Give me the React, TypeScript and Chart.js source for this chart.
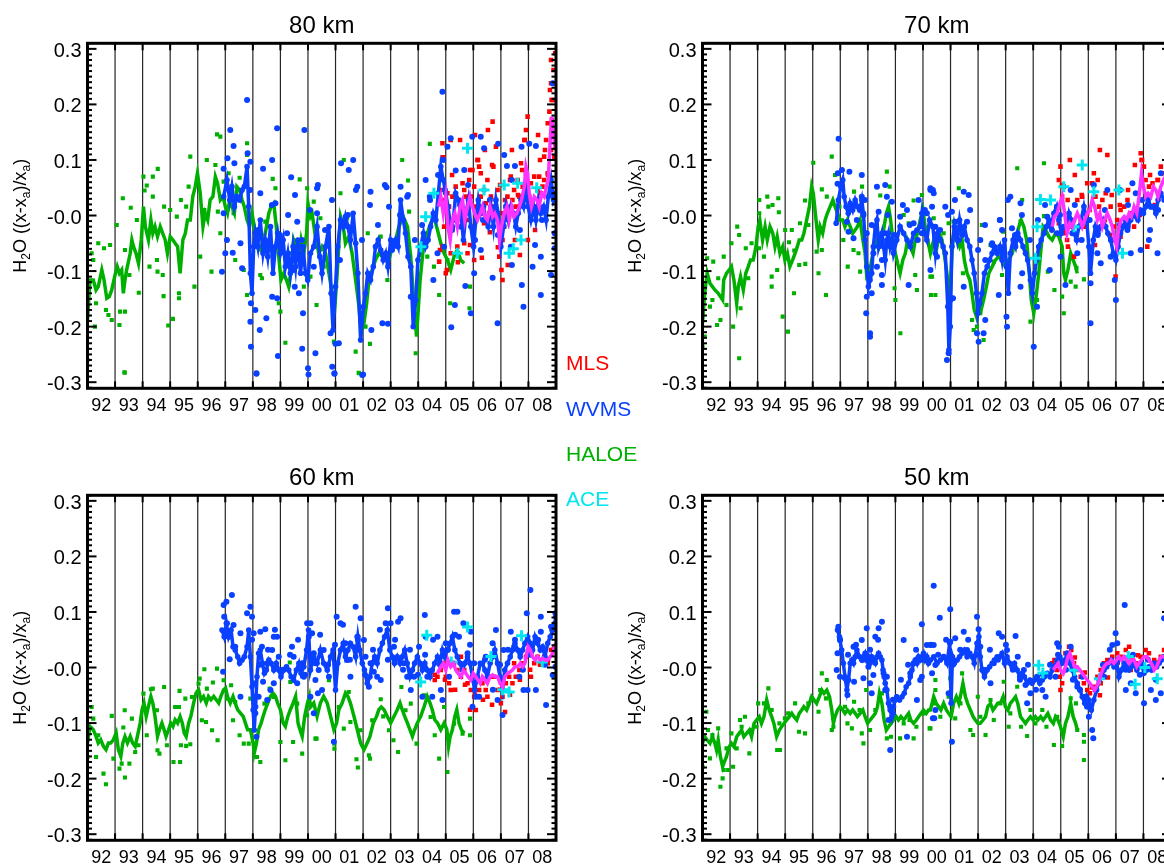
import React, { useEffect, useRef } from 'react';
import { Chart, registerables } from 'chart.js';

Chart.register(...registerables);

type Pt = [number, number];

const FONT = '"Liberation Sans", Arial, Helvetica, sans-serif';
const GREEN = '#00b000';
const BLUE = '#0a40ff';
const RED = '#ff0000';
const CYAN = '#00e6ee';
const MAGENTA = '#ff33ff';

const X_MIN = 1992;
const X_MAX = 2009;
const Y_MIN = -0.311;
const Y_MAX = 0.31;

const yearLines = [1993, 1994, 1995, 1996, 1997, 1998, 1999, 2000, 2001, 2002, 2003, 2004, 2005, 2006, 2007, 2008];
const yearLabelPos = [1992.5, 1993.5, 1994.5, 1995.5, 1996.5, 1997.5, 1998.5, 1999.5, 2000.5, 2001.5, 2002.5, 2003.5, 2004.5, 2005.5, 2006.5, 2007.5, 2008.5];
const yearLabels = ['92', '93', '94', '95', '96', '97', '98', '99', '00', '01', '02', '03', '04', '05', '06', '07', '08'];
const yTickValues = [0.3, 0.2, 0.1, 0, -0.1, -0.2, -0.3];
const yTickLabels = ['0.3', '0.2', '0.1', '-0.0', '-0.1', '-0.2', '-0.3'];
const yTitleParts: [string, boolean][] = [['H', false], ['2', true], ['O ((x-x', false], ['a', true], [')/x', false], ['a', true], [')', false]];

const legendItems = [
  { name: 'MLS', color: RED },
  { name: 'WVMS', color: BLUE },
  { name: 'HALOE', color: GREEN },
  { name: 'ACE', color: CYAN },
];

// ---------------- 80 km ----------------
const haloeLine80: Pt[] = [[1992.0,-0.188],[1992.09,-0.116],[1992.21,-0.116],[1992.31,-0.134],[1992.39,-0.128],[1992.52,-0.098],[1992.6,-0.116],[1992.7,-0.149],[1992.79,-0.146],[1992.88,-0.134],[1993.0,-0.107],[1993.08,-0.092],[1993.16,-0.104],[1993.24,-0.098],[1993.3,-0.14],[1993.36,-0.116],[1993.42,-0.098],[1993.55,-0.068],[1993.61,-0.044],[1993.67,-0.056],[1993.76,-0.068],[1993.85,-0.086],[1993.95,-0.044],[1994.03,0.016],[1994.1,-0.02],[1994.21,-0.044],[1994.3,-0.008],[1994.37,-0.032],[1994.45,-0.02],[1994.54,-0.038],[1994.64,-0.02],[1994.73,-0.032],[1994.82,-0.044],[1994.9,-0.068],[1995.0,-0.038],[1995.1,-0.044],[1995.18,-0.05],[1995.27,-0.056],[1995.36,-0.104],[1995.46,-0.044],[1995.55,-0.032],[1995.63,-0.008],[1995.73,-0.008],[1995.82,0.034],[1995.91,0.052],[1995.99,0.076],[1996.09,0.04],[1996.19,-0.02],[1996.27,0.004],[1996.36,-0.008],[1996.45,0.028],[1996.55,0.034],[1996.64,0.07],[1996.72,0.058],[1996.82,0.028],[1996.92,0.034],[1997.0,0.016],[1997.08,0.004],[1997.16,0.028],[1997.24,0.016],[1997.33,0.004],[1997.42,0.052],[1997.52,0.046],[1997.61,0.028],[1997.69,0.016],[1997.79,-0.008],[1997.88,-0.02],[1997.97,0.004],[1998.05,-0.02],[1998.15,-0.056],[1998.27,-0.062],[1998.37,-0.044],[1998.45,-0.032],[1998.58,0.004],[1998.66,0.016],[1998.76,0.022],[1998.85,-0.02],[1998.94,-0.074],[1999.02,-0.116],[1999.12,-0.104],[1999.22,-0.116],[1999.3,-0.128],[1999.39,-0.098],[1999.48,-0.044],[1999.58,-0.056],[1999.67,-0.074],[1999.75,-0.044],[1999.85,-0.068],[1999.95,-0.032],[2000.0,0.022],[2000.09,-0.002],[2000.15,0.004],[2000.27,-0.038],[2000.39,-0.068],[2000.51,-0.056],[2000.64,-0.068],[2000.76,-0.104],[2000.88,-0.14],[2000.96,-0.176],[2001.06,-0.104],[2001.18,-0.002],[2001.28,-0.02],[2001.36,-0.05],[2001.48,-0.038],[2001.6,-0.068],[2001.73,-0.116],[2001.85,-0.164],[2001.93,-0.212],[2002.03,-0.194],[2002.13,-0.158],[2002.21,-0.116],[2002.33,-0.098],[2002.45,-0.08],[2002.57,-0.068],[2002.7,-0.074],[2002.82,-0.068],[2002.94,-0.08],[2003.06,-0.056],[2003.18,-0.044],[2003.3,-0.02],[2003.46,-0.002],[2003.61,-0.02],[2003.73,-0.074],[2003.85,-0.164],[2003.94,-0.218],[2004.07,-0.116],[2004.19,-0.056],[2004.33,-0.032],[2004.45,-0.014],[2004.57,-0.002],[2004.7,-0.026],[2004.82,-0.05],[2004.94,-0.068],[2005.06,-0.08],[2005.18,-0.098],[2005.3,-0.074],[2005.42,-0.062],[2005.54,-0.08],[2005.67,-0.086]];

const haloePts80: Pt[] = [[1992.0,-0.26],[1992.15,-0.068],[1992.21,-0.08],[1992.39,-0.05],[1992.31,-0.158],[1992.27,-0.2],[1992.6,-0.059],[1992.82,-0.053],[1992.67,-0.17],[1992.76,-0.179],[1992.88,-0.188],[1993.06,-0.017],[1993.16,-0.197],[1993.18,-0.173],[1993.28,0.031],[1993.36,-0.062],[1993.36,-0.173],[1993.34,-0.282],[1993.52,-0.107],[1993.57,0.014],[1993.79,-0.008],[1993.86,-0.139],[1994.03,0.07],[1994.07,0.045],[1994.15,0.054],[1994.25,-0.092],[1994.37,0.07],[1994.37,0.034],[1994.55,0.084],[1994.52,-0.08],[1994.54,-0.101],[1994.73,-0.107],[1994.76,-0.145],[1994.78,0.016],[1994.93,-0.198],[1995.0,0.01],[1995.1,-0.186],[1995.24,-0.002],[1995.32,-0.14],[1995.32,-0.149],[1995.39,0.028],[1995.58,0.016],[1995.67,0.052],[1995.73,0.106],[1995.88,-0.128],[1996.09,-0.074],[1996.24,0.01],[1996.33,0.1],[1996.5,-0.101],[1996.64,0.091],[1996.7,0.146],[1996.82,0.142],[1996.73,0.007],[1996.82,-0.032],[1996.94,0.061],[1997.12,0.076],[1997.3,0.004],[1997.36,-0.08],[1997.52,0.068],[1997.67,-0.098],[1997.79,0.13],[1997.79,0.109],[1997.79,-0.143],[1998.27,-0.107],[1998.33,-0.113],[1998.45,-0.011],[1998.72,0.066],[1998.82,0.049],[1998.94,-0.158],[1999.0,-0.173],[1999.18,-0.229],[1999.36,-0.068],[1999.7,0.065],[1999.85,-0.128],[1999.97,0.049],[2000.09,-0.11],[2000.21,0.025],[2001.3,0.1],[2001.18,0.04],[2001.42,-0.005],[2000.45,-0.005],[2000.57,-0.092],[2000.31,-0.161],[2000.94,-0.227],[2001.73,-0.245],[2001.85,-0.284],[2002.25,-0.231],[2002.09,-0.2],[2002.17,-0.032],[2002.64,-0.038],[2002.88,-0.116],[2003.12,-0.05],[2003.42,0.1],[2003.63,0.063],[2003.67,0.007],[2003.91,-0.248],[2004.09,-0.071],[2004.42,0.129],[2004.33,-0.074],[2004.57,-0.092],[2004.76,-0.143],[2005.06,-0.08],[2005.16,-0.158],[2005.42,-0.068],[2005.86,-0.167],[2005.88,-0.128],[1993.35,-0.283],[2001.84,-0.283]];

const wvmsLine80: Pt[] = [[1996.94,0.034],[1997.06,0.064],[1997.16,0.028],[1997.24,0.052],[1997.33,0.016],[1997.42,0.034],[1997.52,0.028],[1997.61,0.046],[1997.69,0.052],[1997.79,0.088],[1997.85,0.016],[1997.91,-0.104],[1997.97,-0.14],[1998.03,-0.056],[1998.09,-0.032],[1998.18,-0.056],[1998.27,-0.008],[1998.37,-0.068],[1998.45,-0.044],[1998.54,-0.074],[1998.64,-0.02],[1998.73,-0.104],[1998.82,-0.056],[1998.9,-0.032],[1999.0,-0.068],[1999.1,-0.044],[1999.18,-0.092],[1999.27,-0.068],[1999.36,-0.104],[1999.46,-0.056],[1999.55,-0.092],[1999.63,-0.044],[1999.73,-0.104],[1999.82,-0.056],[1999.91,-0.104],[1999.99,-0.116],[2000.09,-0.068],[2000.21,-0.056],[2000.33,-0.02],[2000.43,-0.074],[2000.51,-0.104],[2000.64,-0.056],[2000.76,-0.02],[2000.84,-0.14],[2000.91,-0.206],[2001.0,-0.128],[2001.08,-0.056],[2001.18,-0.008],[2001.28,-0.02],[2001.36,-0.002],[2001.45,-0.02],[2001.54,-0.044],[2001.64,0.004],[2001.73,-0.05],[2001.81,-0.104],[2001.91,-0.224],[2002.01,-0.164],[2002.09,-0.14],[2002.17,-0.104],[2002.27,-0.116],[2002.37,-0.092],[2002.45,-0.056],[2002.55,-0.044],[2002.64,-0.062],[2002.73,-0.08],[2002.82,-0.068],[2002.9,-0.092],[2003.0,-0.044],[2003.1,-0.056],[2003.18,-0.044],[2003.27,-0.056],[2003.36,0.028],[2003.46,-0.008],[2003.54,-0.032],[2003.63,-0.074],[2003.73,-0.092],[2003.82,-0.2],[2003.91,-0.152],[2003.99,-0.08],[2004.09,-0.056],[2004.19,-0.032],[2004.27,-0.056],[2004.36,-0.044],[2004.45,-0.02],[2004.55,0.004],[2004.64,-0.008],[2004.73,0.04],[2004.82,0.088],[2004.91,0.064],[2005.0,0.04],[2005.08,0.016],[2005.18,-0.02],[2005.28,-0.008],[2005.36,0.04],[2005.46,0.028],[2005.55,0.004],[2005.64,-0.044],[2005.73,0.004],[2005.82,0.028],[2005.91,-0.02],[2006.01,-0.056],[2006.09,-0.008],[2006.18,0.028],[2006.27,0.004],[2006.37,0.016],[2006.45,-0.008],[2006.54,-0.02],[2006.64,0.016],[2006.73,-0.02],[2006.82,0.028],[2006.9,0.004],[2007.0,-0.056],[2007.1,-0.02],[2007.18,0.016],[2007.27,-0.008],[2007.36,0.016],[2007.46,0.004],[2007.54,-0.02],[2007.63,0.004],[2007.73,0.028],[2007.82,0.016],[2007.91,0.058],[2007.99,0.016],[2008.09,-0.008],[2008.19,0.016],[2008.27,-0.008],[2008.36,0.028],[2008.45,0.004],[2008.55,0.016],[2008.64,-0.008],[2008.72,0.034],[2008.82,0.064],[2008.91,0.028],[2009.0,0.04]];

const wvmsPts80: Pt[] = [[1997.18,0.154],[1997.3,0.125],[1997.08,0.103],[1996.94,0.084],[1997.33,0.094],[1997.79,0.208],[1997.81,0.112],[1997.91,0.097],[1998.37,0.084],[1998.7,0.1],[1998.88,0.157],[1999.39,0.069],[1999.87,0.154],[2000.33,0.049],[1996.94,0.004],[1997.06,-0.044],[1997.0,-0.068],[1997.27,-0.067],[1996.88,-0.101],[1997.55,-0.05],[1997.61,-0.095],[1997.91,-0.191],[1997.93,-0.158],[1998.09,-0.17],[1997.93,-0.236],[1998.13,-0.284],[1998.25,-0.206],[1998.49,-0.185],[1998.7,-0.146],[1998.88,-0.149],[1998.91,-0.253],[1999.48,-0.098],[1999.52,-0.128],[1999.67,-0.14],[1999.79,-0.24],[1999.82,-0.176],[2000.0,-0.275],[2000.27,-0.248],[1998.27,0.04],[1998.82,0.022],[1999.06,-0.044],[1999.24,-0.032],[1999.61,-0.011],[1999.79,-0.056],[2000.21,-0.092],[2000.33,0.004],[2000.88,-0.272],[2000.96,-0.284],[2000.82,-0.212],[2001.0,-0.231],[2001.12,-0.23],[2001.2,0.094],[2001.48,0.082],[2001.64,0.1],[2001.79,0.052],[2001.97,-0.287],[2002.27,0.043],[2002.3,-0.206],[2002.7,-0.194],[2002.9,-0.195],[2002.85,0.051],[2002.94,0.016],[2003.36,0.052],[2003.6,0.034],[2003.73,-0.146],[2004.27,0.064],[2004.42,0.034],[2004.88,0.223],[2005.18,0.139],[2005.06,0.124],[2004.91,0.1],[2005.36,0.081],[2005.67,0.082],[2005.96,0.142],[2006.27,0.142],[2006.39,0.121],[2006.9,0.129],[2007.12,0.109],[2007.22,0.089],[2007.51,0.089],[2007.75,0.124],[2008.03,0.129],[2008.27,0.125],[2008.88,0.238],[2008.95,-0.032],[2008.95,-0.059],[2008.82,-0.107],[2008.45,-0.143],[2008.15,-0.092],[2007.82,-0.164],[2007.76,-0.125],[2007.4,-0.089],[2006.88,-0.194],[2006.7,-0.112],[2006.03,-0.104],[2005.91,-0.176],[2005.2,-0.201],[2005.33,-0.161],[2005.71,-0.127],[2006.27,-0.062],[2007.36,-0.056],[2008.45,-0.074],[2004.55,-0.116],[2004.7,-0.068],[2004.94,-0.056],[2005.55,-0.02],[2005.24,-0.02],[1998.13,-0.285],[2000.02,-0.286],[2000.96,-0.285],[2002.0,-0.286]];

const wvmsDense80: Pt[] = [[1997.9,0.046],[1998.19,-0.026],[1998.44,-0.062],[1998.69,0.019],[1998.98,-0.035],[1999.28,0.001],[1999.53,0.037],[1999.78,-0.044],[2000.07,0.01],[2000.36,0.055],[2000.62,-0.026],[2000.87,0.028],[2001.16,-0.08],[2001.45,0.001],[2001.74,0.046],[2001.96,-0.044],[2002.25,0.019],[2002.54,-0.017],[2002.79,0.055],[2003.05,-0.062],[2003.34,0.001],[2003.63,0.037],[2003.88,-0.044],[2004.14,-0.017],[2004.43,0.028],[2004.72,0.073],[2004.97,0.046],[2005.23,-0.026],[2005.52,0.019],[2005.81,0.055],[2006.06,-0.044],[2006.35,-0.008],[2006.6,0.028],[2006.89,-0.035],[2007.15,0.001],[2007.4,0.064],[2007.69,-0.026],[2007.98,0.028],[2008.24,-0.053],[2008.49,-0.008],[2008.78,0.037]];

const wvmsOut80: Pt[] = [[2002.0,-0.346]];

const mlsPts80: Pt[] = [[2004.88,0.13],[2005.06,0.124],[2005.18,0.136],[2005.06,0.04],[2004.94,-0.02],[2004.88,-0.056],[2004.76,-0.083],[2005.3,-0.002],[2005.42,-0.056],[2005.67,-0.05],[2005.79,-0.008],[2005.91,0.034],[2005.97,0.082],[2006.03,-0.08],[2006.15,0.1],[2006.21,0.088],[2006.27,0.076],[2006.39,0.046],[2006.51,0.064],[2006.7,0.169],[2006.82,0.124],[2006.73,0.088],[2006.88,0.046],[2007.0,0.004],[2006.94,-0.074],[2007.02,-0.098],[2007.06,-0.116],[2007.24,0.034],[2007.36,0.07],[2007.48,0.046],[2007.61,0.064],[2007.73,0.094],[2007.85,0.136],[2007.91,0.154],[2007.97,0.178],[2008.09,0.058],[2008.21,0.07],[2008.27,0.016],[2008.39,0.07],[2008.51,0.052],[2008.57,0.106],[2008.64,0.136],[2008.7,0.166],[2008.76,0.187],[2008.84,0.208],[2008.91,0.262],[2008.97,0.292],[2008.82,0.238],[2007.51,-0.044],[2007.12,-0.02],[2006.39,-0.014],[2005.67,0.046],[2005.55,0.004],[2006.15,0.004],[2006.64,0.034],[2005.79,-0.068],[2005.18,-0.068],[2005.0,-0.104],[2004.82,0.046],[2004.94,0.028],[2005.12,0.016],[2005.24,0.034],[2005.36,0.052],[2005.48,0.028],[2005.61,0.058],[2005.73,0.034],[2005.85,0.064],[2006.03,0.052],[2006.09,0.016],[2006.27,0.034],[2006.33,0.004],[2006.45,0.022],[2006.57,0.004],[2006.7,0.016],[2006.82,0.028],[2006.94,-0.02],[2007.06,-0.044],[2007.18,0.016],[2007.3,-0.002],[2007.42,0.028],[2007.54,0.016],[2007.67,0.034],[2007.79,0.052],[2007.91,0.076],[2008.03,0.034],[2008.15,0.028],[2008.33,0.046],[2008.45,0.04],[2008.57,0.064],[2008.7,0.076],[2008.82,0.118],[2008.94,0.106]];

const mlsDense80: Pt[] = [[2004.9,0.105],[2005.23,0.073],[2005.34,0.037],[2005.52,0.001],[2005.88,0.082],[2006.17,0.1],[2006.42,0.118],[2006.68,0.091],[2006.97,0.055],[2007.15,0.028],[2007.33,0.064],[2007.62,0.037],[2007.77,0.082],[2008.06,0.01],[2008.24,-0.026],[2008.42,0.1],[2008.6,0.118],[2008.71,0.073],[2008.85,0.172],[2008.89,0.208],[2008.78,0.226],[2008.82,0.28],[2004.79,-0.062],[2005.04,-0.098],[2005.44,-0.084],[2005.88,-0.053],[2006.31,-0.076],[2006.6,-0.03],[2006.89,-0.057],[2007.25,-0.089],[2007.69,-0.071],[2007.98,-0.044],[2005.52,0.136],[2006.06,0.145],[2006.53,0.154],[2007.4,0.118],[2007.87,0.136],[2008.35,0.145]];

const mlsLine80: Pt[] = [[2004.73,0.016],[2004.82,0.034],[2004.91,0.004],[2005.0,0.034],[2005.08,-0.02],[2005.16,-0.044],[2005.24,-0.008],[2005.33,0.004],[2005.42,-0.02],[2005.52,0.016],[2005.61,0.028],[2005.69,-0.008],[2005.79,0.016],[2005.88,0.034],[2005.97,0.016],[2006.05,0.004],[2006.15,-0.008],[2006.25,0.004],[2006.33,0.016],[2006.42,-0.002],[2006.51,-0.008],[2006.61,0.016],[2006.7,-0.002],[2006.78,0.004],[2006.88,-0.008],[2006.95,-0.044],[2007.02,-0.02],[2007.12,0.004],[2007.22,0.016],[2007.3,-0.008],[2007.39,0.016],[2007.48,-0.002],[2007.58,0.004],[2007.67,0.016],[2007.75,0.028],[2007.85,0.052],[2007.91,0.088],[2007.97,0.076],[2008.03,0.04],[2008.11,0.016],[2008.21,0.034],[2008.31,0.028],[2008.39,0.016],[2008.48,0.04],[2008.57,0.034],[2008.65,0.052],[2008.72,0.064],[2008.79,0.136],[2008.84,0.178],[2008.91,0.148],[2008.97,0.118]];

const ace80: Pt[] = [[2004.1,-0.056],[2004.27,-0.002],[2004.57,0.04],[2005.42,-0.068],[2005.79,0.121],[2006.39,0.046],[2007.12,0.055],[2007.3,-0.068],[2007.45,-0.06],[2007.61,0.058],[2007.73,-0.044],[2008.3,0.05]];

// ---------------- 70 km ----------------
const haloeLine70: Pt[] = [[1992.0,-0.194],[1992.08,-0.14],[1992.17,-0.104],[1992.27,-0.122],[1992.36,-0.128],[1992.45,-0.134],[1992.57,-0.14],[1992.65,-0.146],[1992.73,-0.152],[1992.77,-0.116],[1992.87,-0.104],[1992.97,-0.098],[1993.05,-0.092],[1993.14,-0.116],[1993.24,-0.158],[1993.3,-0.128],[1993.38,-0.11],[1993.48,-0.134],[1993.57,-0.104],[1993.66,-0.092],[1993.74,-0.08],[1993.84,-0.08],[1993.94,-0.056],[1994.02,-0.02],[1994.08,-0.008],[1994.18,-0.044],[1994.27,-0.02],[1994.35,-0.044],[1994.45,-0.02],[1994.55,-0.032],[1994.63,-0.056],[1994.71,-0.038],[1994.81,-0.068],[1994.91,-0.056],[1994.99,-0.08],[1995.08,-0.068],[1995.17,-0.092],[1995.27,-0.08],[1995.36,-0.068],[1995.44,-0.056],[1995.51,-0.044],[1995.6,-0.044],[1995.68,-0.032],[1995.78,-0.008],[1995.88,0.016],[1995.96,0.052],[1996.02,0.04],[1996.12,-0.008],[1996.2,-0.044],[1996.27,-0.02],[1996.36,-0.032],[1996.45,-0.008],[1996.53,0.004],[1996.63,0.016],[1996.73,0.028],[1996.81,0.016],[1996.9,0.004],[1996.99,-0.008],[1997.09,-0.008],[1997.17,-0.02],[1997.26,-0.008],[1997.36,-0.02],[1997.45,-0.032],[1997.54,-0.026],[1997.62,-0.02],[1997.72,-0.008],[1997.82,-0.044],[1997.9,-0.068],[1997.96,-0.11],[1998.06,-0.104],[1998.14,-0.08],[1998.23,-0.056],[1998.33,-0.044],[1998.42,-0.056],[1998.51,-0.044],[1998.59,-0.02],[1998.67,0.004],[1998.75,0.016],[1998.81,-0.002],[1998.91,-0.044],[1999.0,-0.068],[1999.08,-0.086],[1999.17,-0.104],[1999.27,-0.08],[1999.36,-0.068],[1999.44,-0.044],[1999.54,-0.056],[1999.64,-0.068],[1999.72,-0.044],[1999.8,-0.032],[1999.9,-0.008],[2000.0,0.01],[2000.08,-0.02],[2000.17,-0.044],[2000.27,-0.068],[2000.39,-0.044],[2000.51,-0.056],[2000.6,-0.032],[2000.69,-0.044],[2000.77,-0.068],[2000.87,-0.104],[2000.93,-0.152],[2000.99,-0.14],[2001.05,-0.068],[2001.14,-0.02],[2001.24,-0.044],[2001.33,-0.056],[2001.42,-0.044],[2001.5,-0.08],[2001.6,-0.104],[2001.7,-0.116],[2001.78,-0.14],[2001.86,-0.17],[2001.94,-0.182],[2002.02,-0.164],[2002.11,-0.17],[2002.2,-0.152],[2002.3,-0.128],[2002.39,-0.104],[2002.51,-0.092],[2002.63,-0.08],[2002.75,-0.074],[2002.87,-0.08],[2002.99,-0.092],[2003.11,-0.08],[2003.24,-0.068],[2003.36,-0.044],[2003.48,-0.02],[2003.56,-0.008],[2003.66,-0.02],[2003.76,-0.044],[2003.84,-0.092],[2003.93,-0.152],[2004.02,-0.176],[2004.12,-0.14],[2004.2,-0.104],[2004.29,-0.056],[2004.36,-0.02],[2004.45,-0.026],[2004.57,-0.038],[2004.69,-0.044],[2004.81,-0.032],[2004.93,-0.038],[2005.05,-0.056],[2005.11,-0.104],[2005.17,-0.116],[2005.26,-0.098],[2005.36,-0.068],[2005.45,-0.08],[2005.54,-0.092],[2005.6,-0.104]];

const haloePts70: Pt[] = [[1992.0,-0.236],[1992.08,-0.218],[1992.17,-0.077],[1992.27,-0.164],[1992.39,-0.083],[1992.36,-0.152],[1992.53,-0.197],[1992.65,-0.188],[1992.57,-0.113],[1992.77,-0.074],[1992.87,-0.161],[1993.05,-0.05],[1993.11,-0.2],[1993.26,-0.02],[1993.33,-0.035],[1993.33,-0.257],[1993.38,-0.167],[1993.57,-0.059],[1993.66,-0.113],[1993.78,-0.05],[1994.06,0.028],[1994.06,0.004],[1994.06,-0.059],[1994.23,-0.074],[1994.35,0.034],[1994.39,0.016],[1994.54,0.019],[1994.51,-0.11],[1994.71,-0.098],[1994.51,-0.128],[1994.75,0.031],[1994.77,0.006],[1994.91,-0.182],[1995.0,-0.026],[1995.1,-0.209],[1995.14,-0.048],[1995.24,-0.026],[1995.33,-0.063],[1995.32,-0.14],[1995.54,-0.014],[1995.51,-0.089],[1995.73,-0.087],[1995.72,0.027],[1995.84,-0.017],[1996.02,0.095],[1996.14,-0.065],[1996.21,-0.104],[1996.33,-0.062],[1996.33,0.047],[1996.51,0.034],[1996.48,-0.143],[1996.69,0.106],[1996.81,0.073],[1996.9,-0.008],[1996.97,0.016],[1997.11,-0.044],[1997.27,-0.092],[1997.5,0.043],[1997.48,-0.062],[1997.66,-0.068],[1997.79,0.052],[1997.72,-0.101],[1998.45,0.036],[1998.69,0.079],[1998.79,0.052],[1998.97,-0.131],[1999.0,-0.152],[1999.18,-0.212],[1999.3,0.001],[1999.48,-0.014],[1999.66,0.027],[1999.72,-0.107],[1999.78,-0.134],[1999.96,0.037],[2000.29,-0.143],[2000.27,-0.11],[2000.39,-0.005],[2000.33,-0.11],[2000.45,-0.143],[2000.75,-0.032],[2000.87,-0.11],[2000.93,-0.014],[2001.11,-0.011],[2001.3,0.049],[2001.42,-0.023],[2001.45,-0.104],[2001.78,-0.188],[2001.84,-0.206],[2001.96,-0.2],[2002.08,-0.176],[2002.2,-0.224],[2002.14,-0.017],[2002.45,-0.053],[2002.57,-0.083],[2002.87,-0.107],[2002.91,-0.029],[2003.42,0.085],[2003.6,0.028],[2003.54,-0.011],[2003.9,-0.191],[2004.14,-0.152],[2004.39,0.094],[2004.39,-0.001],[2004.53,-0.101],[2004.6,-0.014],[2004.77,-0.134],[2005.05,-0.146],[2005.11,-0.176],[2005.36,-0.119],[2005.54,-0.128],[2005.57,-0.094],[2005.84,-0.115]];

const wvmsLine70: Pt[] = [[1996.85,-0.014],[1996.93,0.028],[1997.02,0.052],[1997.09,0.064],[1997.14,0.034],[1997.21,0.016],[1997.29,0.004],[1997.36,0.022],[1997.45,0.01],[1997.54,0.028],[1997.62,0.016],[1997.7,0.01],[1997.78,0.028],[1997.84,0.004],[1997.9,-0.044],[1997.96,-0.092],[1998.02,-0.128],[1998.08,-0.116],[1998.14,-0.104],[1998.2,-0.056],[1998.27,-0.02],[1998.33,-0.008],[1998.39,-0.056],[1998.45,-0.044],[1998.51,-0.032],[1998.57,-0.056],[1998.63,-0.08],[1998.69,-0.044],[1998.75,-0.032],[1998.81,-0.056],[1998.87,-0.044],[1998.93,-0.068],[1999.05,-0.044],[1999.17,-0.02],[1999.3,-0.032],[1999.42,-0.044],[1999.54,-0.056],[1999.66,-0.032],[1999.78,-0.026],[1999.9,-0.02],[1999.96,0.004],[2000.05,-0.032],[2000.14,-0.044],[2000.24,-0.008],[2000.36,-0.02],[2000.45,-0.068],[2000.53,-0.032],[2000.63,-0.044],[2000.73,-0.056],[2000.81,-0.068],[2000.9,-0.164],[2000.94,-0.242],[2000.99,-0.2],[2001.05,-0.056],[2001.14,-0.02],[2001.24,-0.044],[2001.33,-0.008],[2001.42,-0.032],[2001.5,-0.02],[2001.6,-0.044],[2001.7,-0.056],[2001.78,-0.08],[2001.86,-0.104],[2001.94,-0.14],[2001.99,-0.176],[2002.06,-0.158],[2002.14,-0.14],[2002.23,-0.104],[2002.33,-0.092],[2002.42,-0.08],[2002.51,-0.068],[2002.59,-0.056],[2002.69,-0.068],[2002.79,-0.056],[2002.87,-0.08],[2002.96,-0.044],[2003.03,-0.092],[2003.1,-0.14],[2003.17,-0.068],[2003.27,-0.044],[2003.36,-0.056],[2003.44,-0.032],[2003.54,-0.044],[2003.63,-0.056],[2003.72,-0.068],[2003.8,-0.08],[2003.9,-0.116],[2003.97,-0.14],[2004.05,-0.104],[2004.12,-0.08],[2004.2,-0.056],[2004.29,-0.044],[2004.39,-0.032],[2004.48,-0.02],[2004.57,-0.008],[2004.65,-0.02],[2004.75,0.004],[2004.85,0.016],[2004.93,-0.008],[2005.02,-0.032],[2005.11,-0.02],[2005.21,-0.02],[2005.3,0.004],[2005.38,-0.008],[2005.48,-0.032],[2005.57,-0.044],[2005.66,-0.02],[2005.74,-0.008],[2005.84,0.016],[2005.94,-0.008],[2006.02,-0.056],[2006.08,-0.104],[2006.18,-0.044],[2006.26,-0.02],[2006.35,-0.032],[2006.45,-0.02],[2006.54,-0.008],[2006.63,-0.02],[2006.71,-0.032],[2006.81,-0.044],[2006.91,-0.068],[2007.0,-0.08],[2007.08,-0.056],[2007.17,-0.032],[2007.27,-0.02],[2007.36,-0.008],[2007.44,-0.02],[2007.54,-0.008],[2007.63,0.004],[2007.72,-0.002],[2007.8,-0.008],[2007.9,0.01],[2008.0,0.004],[2008.08,0.016],[2008.17,0.028],[2008.27,0.016],[2008.36,0.016],[2008.45,0.004],[2008.53,0.028],[2008.63,0.04],[2008.75,0.028],[2008.9,0.02]];

const wvmsPts70: Pt[] = [[1996.94,0.138],[1997.06,0.082],[1997.33,0.079],[1997.78,0.073],[1996.91,0.076],[1996.9,0.057],[1997.24,-0.011],[1997.3,-0.029],[1997.48,-0.041],[1997.6,-0.008],[1997.78,0.034],[1997.84,0.001],[1997.96,-0.032],[1997.94,-0.176],[1998.08,-0.212],[1998.08,-0.218],[1998.33,0.052],[1998.39,0.007],[1998.63,0.055],[1998.69,0.034],[1998.87,0.025],[1998.51,-0.107],[1998.51,-0.125],[1998.63,-0.032],[1998.51,-0.08],[1998.2,-0.068],[1998.33,-0.092],[1998.14,-0.14],[1997.96,-0.146],[1999.17,-0.002],[1999.42,0.01],[1999.48,-0.125],[1999.66,-0.014],[1999.84,0.028],[1999.96,-0.032],[2000.14,0.004],[2000.27,0.046],[2000.45,-0.02],[2000.51,-0.074],[2000.27,-0.098],[2000.27,0.049],[2000.39,0.04],[2000.33,0.016],[2000.81,0.016],[2001.05,0.007],[2001.17,-0.011],[2001.48,0.043],[2001.66,0.037],[2001.3,-0.044],[2001.6,-0.011],[2000.99,-0.152],[2001.09,-0.149],[2000.93,-0.248],[2000.87,-0.26],[2001.96,-0.212],[2002.02,-0.227],[2002.2,-0.212],[2002.26,-0.188],[2002.08,-0.044],[2002.26,-0.08],[2002.51,-0.05],[2002.79,-0.008],[2002.87,-0.026],[2003.17,0.034],[2003.54,0.022],[2003.23,-0.023],[2003.6,-0.104],[2003.54,-0.128],[2003.03,-0.182],[2003.05,-0.2],[2002.75,-0.143],[2001.48,-0.128],[2004.14,-0.164],[2004.02,-0.236],[2004.51,-0.002],[2004.6,-0.098],[2005.36,0.046],[2005.42,-0.032],[2006.2,0.055],[2006.69,0.046],[2007.15,0.046],[2007.42,-0.026],[2007.6,0.058],[2007.72,0.04],[2008.27,0.016],[2008.63,0.076],[2008.51,-0.068],[2008.2,-0.044],[2007.9,-0.062],[2007.54,-0.068],[2006.96,-0.116],[2007.0,-0.152],[2006.81,-0.074],[2006.08,-0.194],[2006.08,-0.122],[2006.33,-0.068],[2006.45,-0.086],[2005.6,-0.068],[2005.17,-0.125],[2004.99,-0.074],[2004.87,-0.032]];

const wvmsDense70: Pt[] = [[1997.89,0.028],[1998.14,-0.017],[1998.43,-0.053],[1998.72,0.001],[1998.98,-0.035],[1999.27,0.019],[1999.52,-0.017],[1999.81,-0.044],[2000.07,0.01],[2000.36,0.046],[2000.62,-0.026],[2000.91,0.001],[2001.16,0.028],[2001.42,-0.035],[2001.71,0.01],[2002.0,-0.062],[2002.25,-0.017],[2002.51,-0.053],[2002.79,-0.008],[2003.08,0.028],[2003.34,-0.035],[2003.59,0.001],[2003.88,-0.044],[2004.17,-0.008],[2004.43,0.019],[2004.68,-0.026],[2004.97,0.001],[2005.26,-0.017],[2005.51,0.019],[2005.76,-0.044],[2006.05,-0.008],[2006.34,-0.035],[2006.6,0.01],[2006.85,-0.044],[2007.14,-0.017],[2007.44,0.019],[2007.69,0.001],[2007.95,0.028],[2008.24,-0.026],[2008.53,0.01]];

const wvmsOut70: Pt[] = [[2002.0,-0.346]];

const mlsPts70: Pt[] = [[2004.99,0.088],[2004.93,0.064],[2005.11,0.052],[2005.05,0.034],[2004.87,0.016],[2004.81,0.004],[2004.93,-0.014],[2005.11,-0.032],[2005.23,-0.044],[2005.36,-0.02],[2005.48,-0.008],[2005.6,0.028],[2005.78,0.034],[2005.96,0.058],[2006.2,0.076],[2006.14,0.058],[2006.26,0.034],[2006.39,0.016],[2006.51,0.028],[2006.63,0.04],[2006.69,0.109],[2006.81,0.016],[2006.93,-0.02],[2007.05,-0.008],[2007.17,0.01],[2007.3,0.016],[2007.42,0.028],[2007.54,0.004],[2007.66,-0.02],[2007.9,0.112],[2007.93,0.1],[2008.02,0.088],[2008.08,0.064],[2008.2,0.052],[2008.33,0.058],[2008.51,0.064],[2008.63,0.088],[2008.75,0.076],[2005.26,-0.056],[2005.48,-0.074],[2006.87,-0.044],[2006.99,-0.11],[2007.17,-0.038],[2008.14,-0.056],[2005.96,0.004],[2006.57,-0.008],[2005.84,-0.02]];

const mlsDense70: Pt[] = [[2005.04,0.055],[2005.25,0.028],[2005.51,0.073],[2005.76,0.037],[2006.05,0.01],[2006.34,0.064],[2006.6,-0.008],[2006.85,0.037],[2007.14,0.019],[2007.44,0.046],[2007.69,0.091],[2007.95,0.1],[2008.24,0.073],[2008.53,0.064],[2005.15,-0.026],[2005.69,-0.044],[2006.24,-0.053],[2006.78,-0.035],[2007.33,-0.017],[2007.87,0.001],[2008.41,0.019],[2005.33,0.1],[2006.42,0.118]];

const mlsLine70: Pt[] = [[2004.69,-0.02],[2004.77,-0.002],[2004.87,0.004],[2004.97,0.022],[2005.05,0.034],[2005.14,0.004],[2005.23,-0.032],[2005.33,-0.014],[2005.42,-0.02],[2005.5,-0.008],[2005.6,0.004],[2005.7,-0.008],[2005.78,-0.02],[2005.87,-0.008],[2005.96,0.004],[2006.06,0.01],[2006.14,0.028],[2006.23,0.016],[2006.33,-0.008],[2006.42,0.004],[2006.51,-0.02],[2006.59,-0.008],[2006.69,0.004],[2006.79,-0.008],[2006.87,-0.02],[2006.96,-0.044],[2007.03,-0.056],[2007.11,-0.02],[2007.2,-0.008],[2007.3,-0.002],[2007.39,-0.008],[2007.48,0.004],[2007.56,-0.002],[2007.66,0.016],[2007.76,0.004],[2007.84,0.034],[2007.93,0.076],[2008.0,0.052],[2008.08,0.034],[2008.17,0.04],[2008.27,0.034],[2008.36,0.052],[2008.45,0.046],[2008.53,0.034],[2008.63,0.052],[2008.73,0.064],[2008.9,0.05]];

const ace70: Pt[] = [[2004.08,-0.077],[2004.14,-0.02],[2004.26,0.029],[2004.63,0.028],[2005.11,0.052],[2005.48,-0.02],[2005.78,0.091],[2006.2,0.043],[2007.11,0.046],[2007.24,-0.068]];

// ---------------- 60 km ----------------
const haloeLine60: Pt[] = [[1992.0,-0.136],[1992.09,-0.106],[1992.21,-0.112],[1992.31,-0.124],[1992.39,-0.136],[1992.48,-0.13],[1992.58,-0.142],[1992.67,-0.148],[1992.76,-0.136],[1992.84,-0.136],[1992.94,-0.13],[1993.04,-0.118],[1993.12,-0.148],[1993.21,-0.16],[1993.28,-0.136],[1993.36,-0.124],[1993.45,-0.136],[1993.55,-0.124],[1993.64,-0.136],[1993.73,-0.142],[1993.81,-0.124],[1993.91,-0.1],[1993.98,-0.076],[1994.05,-0.064],[1994.13,-0.088],[1994.21,-0.07],[1994.3,-0.052],[1994.37,-0.064],[1994.45,-0.088],[1994.54,-0.124],[1994.61,-0.112],[1994.7,-0.1],[1994.78,-0.112],[1994.85,-0.124],[1994.94,-0.112],[1995.02,-0.1],[1995.1,-0.106],[1995.18,-0.094],[1995.27,-0.1],[1995.36,-0.088],[1995.44,-0.1],[1995.51,-0.118],[1995.58,-0.124],[1995.67,-0.1],[1995.75,-0.088],[1995.85,-0.064],[1995.94,-0.046],[1996.03,-0.04],[1996.12,-0.058],[1996.21,-0.052],[1996.31,-0.064],[1996.39,-0.052],[1996.48,-0.058],[1996.58,-0.052],[1996.67,-0.058],[1996.76,-0.064],[1996.84,-0.052],[1996.94,-0.04],[1997.01,-0.037],[1997.08,-0.052],[1997.18,-0.064],[1997.28,-0.052],[1997.36,-0.064],[1997.45,-0.076],[1997.55,-0.082],[1997.65,-0.088],[1997.73,-0.1],[1997.81,-0.112],[1997.91,-0.112],[1998.01,-0.136],[1998.05,-0.154],[1998.13,-0.136],[1998.21,-0.112],[1998.3,-0.1],[1998.37,-0.088],[1998.45,-0.076],[1998.54,-0.064],[1998.64,-0.052],[1998.73,-0.046],[1998.82,-0.052],[1998.9,-0.064],[1999.0,-0.076],[1999.1,-0.1],[1999.18,-0.106],[1999.27,-0.088],[1999.36,-0.076],[1999.46,-0.064],[1999.55,-0.052],[1999.64,-0.1],[1999.71,-0.112],[1999.79,-0.124],[1999.88,-0.088],[1999.98,-0.064],[2000.05,-0.052],[2000.09,-0.071],[2000.21,-0.064],[2000.33,-0.088],[2000.45,-0.064],[2000.57,-0.052],[2000.7,-0.064],[2000.82,-0.088],[2000.94,-0.112],[2001.04,-0.1],[2001.12,-0.076],[2001.24,-0.064],[2001.36,-0.046],[2001.45,-0.052],[2001.54,-0.064],[2001.67,-0.088],[2001.79,-0.112],[2001.91,-0.136],[2002.03,-0.148],[2002.15,-0.136],[2002.25,-0.124],[2002.37,-0.1],[2002.49,-0.088],[2002.57,-0.076],[2002.66,-0.071],[2002.76,-0.076],[2002.88,-0.088],[2003.0,-0.1],[2003.12,-0.088],[2003.24,-0.076],[2003.34,-0.064],[2003.42,-0.076],[2003.51,-0.088],[2003.61,-0.1],[2003.7,-0.112],[2003.79,-0.124],[2003.87,-0.112],[2003.97,-0.1],[2004.09,-0.088],[2004.21,-0.071],[2004.33,-0.052],[2004.43,-0.064],[2004.51,-0.076],[2004.6,-0.094],[2004.7,-0.1],[2004.82,-0.112],[2004.94,-0.1],[2005.04,-0.112],[2005.1,-0.142],[2005.16,-0.124],[2005.24,-0.112],[2005.33,-0.088],[2005.4,-0.076],[2005.48,-0.1],[2005.57,-0.112],[2005.67,-0.118]];

const haloePts60: Pt[] = [[1992.0,-0.161],[1992.15,-0.071],[1992.21,-0.092],[1992.31,-0.161],[1992.39,-0.122],[1992.58,-0.191],[1992.67,-0.21],[1992.88,-0.087],[1992.94,-0.164],[1993.16,-0.182],[1993.24,-0.173],[1993.3,-0.108],[1993.36,-0.198],[1993.35,-0.077],[1993.52,-0.173],[1993.61,-0.092],[1993.73,-0.152],[1993.85,-0.14],[1994.03,-0.047],[1994.15,-0.122],[1994.3,-0.039],[1994.37,-0.038],[1994.52,-0.077],[1994.54,-0.149],[1994.61,-0.155],[1994.78,-0.035],[1994.88,-0.14],[1995.12,-0.17],[1995.18,-0.071],[1995.32,-0.071],[1995.34,-0.042],[1995.36,-0.17],[1995.39,-0.14],[1995.55,-0.056],[1995.58,-0.141],[1995.73,-0.138],[1995.79,-0.053],[1996.03,-0.029],[1996.07,-0.02],[1996.24,-0.003],[1996.15,-0.095],[1996.3,-0.098],[1996.33,-0.038],[1996.52,-0.113],[1996.55,-0.027],[1996.7,-0.002],[1996.72,-0.131],[1996.94,-0.023],[1997.06,-0.056],[1997.21,-0.032],[1997.28,-0.095],[1997.36,-0.062],[1997.52,-0.122],[1997.67,-0.137],[1997.85,-0.137],[1997.91,-0.056],[1998.15,-0.161],[1998.27,-0.17],[1998.42,-0.065],[1998.61,-0.038],[1998.76,-0.053],[1999.0,-0.134],[1999.18,-0.167],[1999.34,0.009],[1999.36,-0.026],[1999.46,-0.134],[1999.61,-0.065],[1999.79,-0.155],[1999.97,-0.086],[2000.09,-0.068],[2000.31,-0.128],[2000.27,-0.128],[2000.76,-0.023],[2000.96,-0.137],[2000.96,-0.146],[2001.12,-0.071],[2001.3,-0.11],[2001.48,-0.044],[2001.54,-0.098],[2001.76,-0.165],[2001.81,-0.18],[2001.91,-0.113],[2002.21,-0.158],[2002.25,-0.164],[2002.33,-0.095],[2002.64,-0.057],[2002.73,-0.088],[2002.94,-0.113],[2003.1,-0.131],[2003.27,-0.152],[2003.39,-0.035],[2003.54,-0.077],[2003.73,-0.065],[2003.94,-0.137],[2004.21,-0.05],[2004.45,-0.089],[2004.6,-0.122],[2004.76,-0.164],[2004.94,-0.071],[2005.06,-0.188],[2005.3,-0.101],[2005.61,-0.119],[2005.88,-0.092],[2005.88,-0.122]];

const wvmsLine60: Pt[] = [[1996.88,0.0675],[1996.96,0.0555],[1997.04,0.0795],[1997.12,0.0555],[1997.21,0.0675],[1997.28,0.0375],[1997.36,0.0315],[1997.45,0.0195],[1997.52,0.0075],[1997.61,0.0135],[1997.69,0.0195],[1997.79,0.0375],[1997.85,0.0675],[1997.91,0.0195],[1997.97,-0.0345],[1998.01,-0.0765],[1998.05,-0.1125],[1998.1,-0.0705],[1998.15,-0.0165],[1998.21,0.0255],[1998.27,0.0315],[1998.35,0.0075],[1998.42,-0.0105],[1998.49,-0.0045],[1998.58,0.0135],[1998.66,0.0075],[1998.76,-0.0045],[1998.85,0.0075],[1998.94,-0.0045],[1999.02,-0.0165],[1999.12,-0.0045],[1999.22,0.0015],[1999.3,-0.0045],[1999.39,-0.0165],[1999.48,-0.0225],[1999.58,-0.0045],[1999.67,0.0075],[1999.75,-0.0105],[1999.85,0.0015],[1999.95,0.0315],[2000.02,0.0675],[2000.09,-0.0045],[2000.21,0.0195],[2000.33,0.0075],[2000.45,0.0315],[2000.57,0.0075],[2000.7,-0.0045],[2000.82,0.0195],[2000.91,0.0315],[2001.0,-0.0405],[2001.08,0.0075],[2001.18,0.0315],[2001.28,0.0435],[2001.36,0.0195],[2001.45,0.0315],[2001.54,0.0435],[2001.64,0.0375],[2001.73,0.0195],[2001.81,0.0555],[2001.88,0.0315],[2001.97,0.0075],[2002.05,-0.0045],[2002.15,-0.0285],[2002.25,-0.0165],[2002.33,0.0075],[2002.42,0.0195],[2002.51,0.0075],[2002.61,0.0315],[2002.7,0.0435],[2002.78,0.0555],[2002.88,0.0675],[2002.97,0.0315],[2003.06,0.0195],[2003.14,0.0075],[2003.24,0.0195],[2003.34,0.0075],[2003.42,0.0195],[2003.51,0.0315],[2003.6,0.0075],[2003.7,-0.0165],[2003.79,-0.0045],[2003.87,0.0075],[2003.97,0.0195],[2004.07,0.0075],[2004.15,-0.0045],[2004.24,0.0075],[2004.33,-0.0045],[2004.43,-0.0165],[2004.51,-0.0045],[2004.6,0.0075],[2004.7,0.0195],[2004.79,0.0075],[2004.88,0.0315],[2004.96,0.0195],[2005.06,0.0315],[2005.16,0.0435],[2005.24,0.0555],[2005.33,0.0315],[2005.42,0.0195],[2005.52,0.0075],[2005.6,-0.0045],[2005.69,0.0075],[2005.79,0.0195],[2005.88,0.0075],[2005.97,-0.0165],[2006.05,-0.0405],[2006.15,-0.0165],[2006.25,0.0075],[2006.33,0.0075],[2006.42,-0.0045],[2006.51,-0.0165],[2006.61,0.0075],[2006.7,0.0195],[2006.78,0.0315],[2006.88,0.0075],[2006.97,-0.0165],[2007.06,-0.0405],[2007.14,-0.0045],[2007.24,0.0075],[2007.34,0.0195],[2007.42,0.0315],[2007.51,0.0435],[2007.61,0.0315],[2007.7,0.0195],[2007.79,0.0315],[2007.87,0.0435],[2007.97,0.0555],[2008.07,0.0435],[2008.15,0.0315],[2008.24,0.0555],[2008.33,0.0435],[2008.43,0.0315],[2008.51,0.0375],[2008.6,0.0195],[2008.7,0.0435],[2008.79,0.0555],[2008.88,0.0675],[2008.96,0.0795],[2008.99,0.0915]];

const wvmsPts60: Pt[] = [[1996.94,0.1125],[1997.04,0.1185],[1997.24,0.1305],[1996.96,0.0915],[1997.06,0.0795],[1997.12,0.0555],[1997.3,0.0765],[1997.36,0.0375],[1997.16,0.0147],[1996.92,-0.0075],[1997.55,0.0615],[1997.79,0.0975],[1997.91,0.1095],[1997.97,0.0915],[1998.03,0.0615],[1998.03,-0.0285],[1998.05,-0.0525],[1998.09,-0.0825],[1998.13,-0.1245],[1998.27,0.0645],[1998.45,0.0687],[1998.33,0.0375],[1998.52,0.0075],[1998.76,0.0555],[1998.88,0.0555],[1998.7,0.0315],[1998.76,-0.0285],[1998.64,-0.0405],[1998.52,-0.0585],[1998.21,-0.0525],[1998.37,-0.0255],[1998.94,0.0195],[1999.42,0.0375],[1999.48,0.0195],[1999.61,-0.0285],[1999.79,0.0075],[1999.85,-0.0165],[1999.97,0.0795],[2000.03,0.0555],[2000.09,0.0195],[2000.27,0.0075],[2000.36,-0.0465],[2000.09,-0.0525],[2000.21,-0.0825],[1997.55,-0.0525],[2000.15,0.0615],[2000.09,0.0795],[2000.21,0.0255],[2000.27,-0.0225],[2000.39,-0.0045],[2000.51,-0.0405],[2000.57,0.0315],[2000.76,-0.0165],[2000.94,-0.1335],[2001.04,0.0915],[2001.18,0.0795],[2001.36,0.0435],[2001.42,0.0135],[2001.54,-0.0165],[2001.73,0.1095],[2001.79,0.0555],[2001.91,0.0885],[2002.03,0.0495],[2002.09,0.0195],[2002.21,-0.0345],[2002.27,0.0075],[2002.39,-0.0075],[2002.51,-0.0165],[2002.64,-0.0225],[2002.82,0.0795],[2002.9,0.1065],[2003.0,0.0795],[2003.12,0.0375],[2003.27,0.0825],[2003.36,0.0885],[2003.48,0.0075],[2003.6,-0.0165],[2003.73,-0.0405],[2003.85,-0.0165],[2004.03,0.0375],[2004.15,-0.0525],[2004.24,0.0945],[2004.27,0.0555],[2004.33,-0.0165],[2004.51,-0.0525],[2004.7,0.0555],[2004.82,-0.0405],[2004.88,-0.0585],[2005.0,0.0435],[2005.12,-0.0165],[2005.3,0.1005],[2005.42,0.1005],[2005.48,0.0555],[2005.64,0.0795],[2005.79,0.0255],[2005.91,0.0645],[2006.03,0.0075],[2005.97,-0.0705],[2006.09,-0.0525],[2006.21,-0.0525],[2006.45,0.0195],[2006.7,0.0435],[2006.82,0.0675],[2006.88,-0.0585],[2007.06,-0.0855],[2007.1,0.0315],[2007.36,0.0645],[2007.48,0.0375],[2007.67,-0.0165],[2007.82,-0.0405],[2007.97,-0.0405],[2008.07,0.1395],[2007.94,0.0975],[2008.27,-0.0405],[2008.45,0.0645],[2008.45,0.0915],[2008.64,-0.0675],[2008.82,0.0735],[2008.98,0.0975],[2008.98,0.0015],[2008.88,-0.0135]];

const wvmsDense60: Pt[] = [[1997.97,0.05],[1998.26,0.005],[1998.55,0.032],[1998.8,0.068],[1999.09,-0.004],[1999.35,0.023],[1999.64,0.05],[1999.89,-0.013],[2000.18,0.023],[2000.44,0.059],[2000.73,0.005],[2000.98,0.041],[2001.27,0.077],[2001.52,0.014],[2001.81,0.05],[2002.07,-0.013],[2002.36,0.032],[2002.61,0.068],[2002.9,0.014],[2003.16,0.05],[2003.45,-0.004],[2003.7,0.032],[2003.99,-0.013],[2004.25,0.023],[2004.54,0.05],[2004.79,0.005],[2005.08,0.032],[2005.34,0.059],[2005.63,0.005],[2005.88,0.041],[2006.17,-0.022],[2006.42,0.014],[2006.71,-0.04],[2006.97,0.005],[2007.26,0.032],[2007.51,0.05],[2007.8,-0.004],[2008.06,0.023],[2008.35,0.05],[2008.6,0.005],[2008.86,0.068]];

const mlsPts60: Pt[] = [[2004.6,-0.0225],[2004.7,-0.0165],[2004.82,-0.0045],[2004.94,0.0075],[2005.0,-0.0165],[2005.12,-0.0285],[2005.18,-0.0405],[2005.3,0.0075],[2005.42,-0.0045],[2005.55,-0.0165],[2005.67,-0.0045],[2005.79,-0.0285],[2005.91,-0.0405],[2006.03,-0.0525],[2006.09,-0.0765],[2006.21,-0.0405],[2006.33,-0.0285],[2006.45,-0.0405],[2006.51,-0.0525],[2006.64,-0.0165],[2006.76,-0.0165],[2006.88,-0.0405],[2007.0,-0.0645],[2007.06,-0.0525],[2007.18,-0.0285],[2007.3,-0.0165],[2007.42,-0.0285],[2007.54,-0.0165],[2007.67,-0.0045],[2007.79,0.0075],[2007.91,0.0195],[2007.97,0.0435],[2008.09,0.0315],[2008.21,0.0075],[2008.33,0.0195],[2008.45,0.0075],[2008.57,0.0195],[2008.7,0.0075],[2008.82,0.0315],[2008.94,0.0375],[2005.55,0.0195],[2005.0,0.0195],[2006.88,0.0075],[2008.09,-0.0165],[2007.48,0.0075]];

const mlsDense60: Pt[] = [[2004.61,-0.013],[2004.97,-0.022],[2005.34,-0.04],[2005.7,-0.031],[2006.06,-0.049],[2006.35,-0.058],[2006.68,-0.067],[2006.97,-0.04],[2007.33,-0.049],[2007.69,-0.022],[2008.06,-0.004],[2008.42,0.005],[2008.71,0.014],[2008.89,0.032],[2005.88,-0.076],[2007.15,-0.08]];

const mlsLine60: Pt[] = [[2004.7,-0.0105],[2004.82,0.0015],[2004.91,0.0075],[2005.0,-0.0045],[2005.08,0.0135],[2005.18,0.0015],[2005.28,0.0075],[2005.36,-0.0045],[2005.45,-0.0105],[2005.55,-0.0165],[2005.64,-0.0045],[2005.73,-0.0105],[2005.81,-0.0165],[2005.91,-0.0225],[2006.0,-0.0105],[2006.09,-0.0165],[2006.17,-0.0225],[2006.25,-0.0285],[2006.33,-0.0165],[2006.42,-0.0225],[2006.51,-0.0285],[2006.61,-0.0165],[2006.7,-0.0135],[2006.78,-0.0165],[2006.88,-0.0165],[2006.97,-0.0285],[2007.06,-0.0345],[2007.14,-0.0165],[2007.24,-0.0105],[2007.34,-0.0075],[2007.42,-0.0045],[2007.51,0.0015],[2007.61,0.0015],[2007.7,0.0075],[2007.79,0.0015],[2007.87,0.0075],[2007.94,0.0255],[2007.99,0.0375],[2008.07,0.0315],[2008.15,0.0195],[2008.24,0.0135],[2008.33,0.0195],[2008.43,0.0135],[2008.51,0.0165],[2008.6,0.0135],[2008.7,0.0135],[2008.79,0.0195],[2008.88,0.0255],[2008.94,0.0375],[2008.99,0.0435]];

const ace60: Pt[] = [[2004.09,-0.026],[2004.31,0.058],[2005.2,0.01],[2005.79,0.073],[2006.64,0.02],[2007.06,-0.04],[2007.3,-0.044],[2007.75,0.057],[2008.5,0.01]];

// ---------------- 50 km ----------------
const haloeLine50: Pt[] = [[1992.0,-0.1365],[1992.08,-0.1245],[1992.17,-0.1305],[1992.27,-0.1365],[1992.36,-0.1245],[1992.45,-0.1365],[1992.51,-0.1485],[1992.57,-0.1305],[1992.65,-0.1605],[1992.73,-0.1785],[1992.77,-0.1725],[1992.87,-0.1605],[1992.97,-0.1425],[1993.05,-0.1365],[1993.14,-0.1425],[1993.24,-0.1245],[1993.33,-0.1185],[1993.42,-0.1125],[1993.5,-0.1245],[1993.6,-0.1185],[1993.7,-0.1125],[1993.78,-0.1245],[1993.87,-0.1005],[1993.96,-0.0945],[1994.06,-0.0885],[1994.14,-0.1005],[1994.23,-0.0885],[1994.33,-0.0585],[1994.42,-0.0765],[1994.51,-0.0885],[1994.59,-0.1005],[1994.69,-0.1245],[1994.79,-0.1125],[1994.87,-0.1065],[1994.96,-0.1005],[1995.05,-0.0945],[1995.15,-0.0885],[1995.24,-0.0825],[1995.32,-0.0885],[1995.42,-0.0945],[1995.51,-0.0825],[1995.6,-0.0765],[1995.68,-0.0705],[1995.78,-0.0765],[1995.88,-0.0645],[1995.96,-0.0525],[1996.05,-0.0585],[1996.14,-0.0645],[1996.24,-0.0525],[1996.33,-0.0405],[1996.41,-0.0465],[1996.51,-0.0405],[1996.61,-0.0525],[1996.69,-0.0765],[1996.75,-0.1005],[1996.81,-0.0885],[1996.9,-0.0765],[1996.99,-0.0705],[1997.09,-0.0765],[1997.17,-0.0825],[1997.26,-0.0765],[1997.36,-0.0825],[1997.45,-0.0765],[1997.54,-0.0825],[1997.62,-0.0885],[1997.72,-0.0825],[1997.82,-0.0765],[1997.9,-0.0885],[1997.99,-0.1005],[1998.08,-0.0945],[1998.18,-0.0885],[1998.27,-0.0825],[1998.35,-0.0705],[1998.42,-0.0465],[1998.51,-0.0645],[1998.59,-0.0945],[1998.67,-0.1125],[1998.75,-0.1065],[1998.84,-0.1005],[1998.93,-0.0945],[1999.03,-0.0885],[1999.11,-0.0945],[1999.2,-0.0885],[1999.3,-0.0945],[1999.39,-0.0885],[1999.48,-0.0825],[1999.56,-0.0945],[1999.66,-0.1005],[1999.76,-0.0945],[1999.84,-0.0885],[1999.93,-0.0825],[2000.02,-0.0765],[2000.12,-0.0825],[2000.2,-0.0765],[2000.27,-0.0765],[2000.39,-0.0525],[2000.48,-0.0645],[2000.57,-0.0705],[2000.65,-0.0765],[2000.75,-0.0645],[2000.85,-0.0765],[2000.93,-0.0825],[2001.02,-0.0885],[2001.11,-0.0645],[2001.21,-0.0525],[2001.3,-0.0645],[2001.38,-0.0465],[2001.45,-0.0285],[2001.54,-0.0525],[2001.62,-0.0645],[2001.72,-0.0765],[2001.82,-0.0885],[2001.9,-0.0945],[2001.99,-0.1005],[2002.08,-0.1005],[2002.18,-0.0945],[2002.27,-0.0885],[2002.35,-0.0705],[2002.45,-0.0645],[2002.54,-0.0765],[2002.63,-0.0705],[2002.71,-0.0645],[2002.81,-0.0645],[2002.91,-0.0525],[2002.99,-0.0705],[2003.08,-0.0765],[2003.17,-0.0645],[2003.27,-0.0585],[2003.36,-0.0525],[2003.44,-0.0645],[2003.54,-0.0885],[2003.63,-0.0945],[2003.72,-0.1005],[2003.8,-0.0945],[2003.9,-0.0885],[2004.0,-0.0945],[2004.08,-0.0885],[2004.17,-0.0945],[2004.27,-0.0885],[2004.36,-0.0945],[2004.45,-0.0885],[2004.53,-0.0825],[2004.63,-0.0945],[2004.73,-0.1005],[2004.81,-0.0885],[2004.9,-0.0945],[2004.99,-0.1065],[2005.09,-0.1245],[2005.17,-0.1005],[2005.26,-0.0885],[2005.36,-0.0645],[2005.45,-0.0885],[2005.54,-0.1005],[2005.6,-0.1125]];

const haloePts50: Pt[] = [[1992.0,-0.1785],[1992.14,-0.0795],[1992.2,-0.1125],[1992.27,-0.1635],[1992.36,-0.1215],[1992.51,-0.1395],[1992.57,-0.1095],[1992.65,-0.2145],[1992.73,-0.1995],[1992.77,-0.1845],[1992.87,-0.1455],[1992.93,-0.1845],[1993.05,-0.1185],[1993.11,-0.1785],[1993.24,-0.1455],[1993.36,-0.0945],[1993.42,-0.1065],[1993.54,-0.0885],[1993.7,-0.1545],[1993.78,-0.1125],[1993.96,-0.1065],[1994.02,-0.0645],[1994.14,-0.0945],[1994.23,-0.0645],[1994.39,-0.0375],[1994.51,-0.0765],[1994.71,-0.1485],[1994.81,-0.1485],[1994.79,-0.1005],[1994.99,-0.0915],[1995.11,-0.0825],[1995.36,-0.0645],[1995.5,-0.1155],[1995.72,-0.1185],[1995.84,-0.0645],[1995.96,-0.0555],[1996.21,-0.0795],[1996.33,-0.0105],[1996.27,-0.0405],[1996.51,-0.0225],[1996.48,-0.0555],[1996.69,-0.1125],[1996.75,-0.1065],[1997.17,-0.0705],[1997.26,-0.1005],[1997.42,-0.1095],[1997.5,-0.0615],[1997.7,-0.0765],[1997.78,-0.1185],[1997.84,-0.1365],[1997.94,-0.0405],[1998.08,-0.1125],[1998.27,-0.0765],[1998.51,-0.0465],[1998.69,-0.1275],[1998.84,-0.1245],[1999.17,-0.1275],[1999.3,-0.1005],[1999.51,-0.0945],[1999.66,-0.1275],[1999.76,-0.1065],[2000.02,-0.0825],[2000.24,-0.1095],[2000.39,-0.0645],[2000.45,-0.0225],[2000.27,-0.1095],[2000.45,-0.0405],[2000.63,-0.0885],[2000.93,-0.0525],[2000.99,-0.0195],[2001.17,-0.0915],[2001.36,-0.0645],[2001.42,-0.0105],[2001.72,-0.1125],[2001.82,-0.1215],[2001.99,-0.0525],[2002.08,-0.0885],[2002.27,-0.1215],[2002.45,-0.0585],[2002.57,-0.0945],[2002.81,-0.0645],[2002.93,-0.0255],[2003.11,-0.1065],[2003.17,-0.0825],[2003.42,-0.0345],[2003.56,-0.1065],[2003.78,-0.1233],[2003.9,-0.0765],[2004.08,-0.1005],[2004.33,-0.0765],[2004.48,-0.1065],[2004.75,-0.1395],[2004.87,-0.0885],[2005.05,-0.1413],[2005.36,-0.0555],[2005.55,-0.0645],[2005.6,-0.1125],[2005.84,-0.1215],[2005.84,-0.1335],[2005.84,-0.1665]];

const wvmsLine50: Pt[] = [[1996.9,0.0675],[1996.97,0.0555],[1997.05,0.0315],[1997.11,0.0075],[1997.17,-0.0165],[1997.24,-0.0405],[1997.3,-0.0225],[1997.36,0.0075],[1997.42,0.0135],[1997.48,0.0075],[1997.54,0.0195],[1997.6,0.0315],[1997.7,0.0195],[1997.78,0.0135],[1997.84,0.0195],[1997.9,0.0255],[1997.96,0.0135],[1998.02,0.0195],[1998.08,0.0075],[1998.14,0.0195],[1998.2,0.0135],[1998.27,0.0075],[1998.33,0.0195],[1998.39,0.0255],[1998.45,0.0195],[1998.51,0.0135],[1998.55,-0.0045],[1998.59,-0.0165],[1998.63,-0.0285],[1998.69,-0.0405],[1998.75,-0.0645],[1998.81,-0.0765],[1998.87,-0.0885],[1998.93,-0.0705],[1998.99,-0.0585],[1999.05,-0.0525],[1999.15,-0.0585],[1999.24,-0.0525],[1999.32,-0.0465],[1999.39,-0.0345],[1999.48,-0.0285],[1999.54,-0.0165],[1999.6,-0.0045],[1999.66,0.0075],[1999.72,0.0135],[1999.78,0.0075],[1999.84,0.0195],[1999.9,0.0135],[1999.96,0.0195],[2000.02,0.0255],[2000.08,0.0135],[2000.14,0.0195],[2000.2,0.0075],[2000.27,0.0135],[2000.39,0.0195],[2000.51,0.0075],[2000.63,0.0135],[2000.75,0.0195],[2000.87,0.0075],[2000.97,0.0435],[2001.02,-0.0645],[2001.07,0.0195],[2001.14,0.0075],[2001.24,0.0135],[2001.33,0.0195],[2001.42,0.0255],[2001.5,0.0315],[2001.6,0.0195],[2001.7,0.0255],[2001.78,0.0195],[2001.86,0.0075],[2001.96,0.0435],[2002.03,0.0555],[2002.08,0.0195],[2002.14,-0.0045],[2002.23,-0.0165],[2002.33,-0.0045],[2002.42,0.0015],[2002.51,0.0075],[2002.59,0.0135],[2002.69,0.0195],[2002.79,0.0195],[2002.87,0.0255],[2002.96,0.0075],[2003.05,0.0195],[2003.15,0.0075],[2003.23,0.0015],[2003.32,0.0075],[2003.42,-0.0045],[2003.51,-0.0165],[2003.6,-0.0105],[2003.68,-0.0165],[2003.78,-0.0285],[2003.88,-0.0225],[2003.96,-0.0285],[2004.05,-0.0225],[2004.14,-0.0165],[2004.24,-0.0285],[2004.33,-0.0225],[2004.41,-0.0165],[2004.51,-0.0105],[2004.61,-0.0165],[2004.69,-0.0045],[2004.77,0.0015],[2004.87,0.0135],[2004.97,0.0195],[2005.05,0.0075],[2005.14,0.0135],[2005.23,0.0195],[2005.33,0.0075],[2005.42,-0.0045],[2005.5,-0.0165],[2005.6,-0.0285],[2005.7,-0.0405],[2005.78,-0.0525],[2005.87,-0.0645],[2005.94,-0.0525],[2006.02,-0.0645],[2006.11,-0.0765],[2006.2,-0.0585],[2006.3,-0.0405],[2006.39,-0.0225],[2006.47,-0.0165],[2006.57,-0.0045],[2006.67,0.0015],[2006.75,0.0075],[2006.83,0.0135],[2006.93,0.0015],[2007.03,0.0075],[2007.11,-0.0165],[2007.2,-0.0045],[2007.3,0.0075],[2007.39,0.0015],[2007.48,-0.0045],[2007.56,0.0015],[2007.66,0.0075],[2007.76,-0.0045],[2007.84,0.0015],[2007.93,0.0075],[2008.02,-0.0105],[2008.12,-0.0045],[2008.2,0.0015],[2008.29,-0.0045],[2008.39,0.0075],[2008.48,0.0015],[2008.57,0.0075],[2008.65,0.0135],[2008.75,0.0195],[2008.9,0.015]];

const wvmsPts50: Pt[] = [[1996.93,0.0735],[1996.99,0.0495],[1996.9,0.0255],[1996.87,-0.0045],[1996.99,-0.0165],[1997.17,-0.0195],[1997.26,-0.0495],[1997.48,0.0375],[1997.5,-0.0255],[1997.78,0.0495],[1997.84,-0.0195],[1997.96,0.0705],[1998.02,0.0015],[1998.08,-0.0285],[1998.14,-0.0465],[1998.2,-0.0135],[1998.27,0.0555],[1998.39,0.0705],[1998.51,0.0825],[1998.57,-0.0105],[1998.63,-0.0405],[1998.69,-0.0165],[1998.81,-0.0705],[1998.91,-0.0825],[1998.81,-0.1485],[1998.75,-0.0945],[1999.3,0.0495],[1999.42,-0.1245],[1999.54,-0.0105],[1999.78,-0.0585],[1999.96,0.0777],[1999.96,-0.0165],[2000.14,0.0405],[2000.27,0.0405],[2000.36,-0.0915],[2000.45,-0.0765],[2000.39,0.1473],[2000.61,0.0897],[1999.9,-0.0225],[1999.66,0.0075],[2000.33,-0.0105],[2000.99,0.1047],[2000.39,0.0405],[2000.45,0.0045],[2000.75,0.0195],[2000.99,0.0465],[2000.93,-0.0465],[2000.41,-0.0915],[2001.05,-0.1335],[2001.17,0.0525],[2001.48,0.0645],[2001.6,0.0315],[2001.96,0.0915],[2002.02,0.0687],[2002.08,0.0375],[2002.27,-0.0045],[2002.45,-0.0285],[2002.57,0.0075],[2002.75,0.0615],[2002.87,0.0555],[2003.05,0.0315],[2003.36,0.0567],[2003.44,0.0195],[2003.66,-0.0045],[2003.72,-0.0315],[2003.78,-0.0645],[2003.9,-0.0465],[2004.14,-0.0165],[2004.33,-0.0405],[2004.45,-0.0525],[2004.87,0.0435],[2004.93,0.0375],[2004.81,-0.0165],[2005.23,0.0255],[2005.36,0.0375],[2005.6,-0.0345],[2005.78,-0.0165],[2005.9,-0.0525],[2005.96,-0.0705],[2006.02,-0.0885],[2006.14,-0.1125],[2006.18,-0.1275],[2006.26,-0.0405],[2006.57,-0.0165],[2006.87,0.0405],[2006.99,0.0615],[2007.05,0.0435],[2007.32,0.1125],[2007.36,-0.0405],[2007.54,-0.0285],[2007.72,-0.0465],[2008.02,-0.0645],[2008.27,-0.0405],[2008.45,-0.0585],[2008.63,-0.0465],[2008.75,0.0885]];

const wvmsDense50: Pt[] = [[1996.99,0.05],[1997.28,0.023],[1997.57,0.041],[1997.82,0.014],[1998.08,0.032],[1998.37,0.05],[1998.66,-0.04],[1998.91,-0.058],[1999.2,-0.022],[1999.46,0.005],[1999.75,0.032],[2000.0,0.014],[2000.29,0.041],[2000.55,0.023],[2000.84,0.05],[2001.09,0.005],[2001.35,0.032],[2001.64,0.05],[2001.93,0.023],[2002.18,-0.004],[2002.43,0.032],[2002.72,0.014],[2003.01,0.041],[2003.26,-0.004],[2003.52,-0.022],[2003.81,0.005],[2004.1,-0.04],[2004.35,-0.013],[2004.61,0.005],[2004.9,0.023],[2005.19,-0.004],[2005.44,-0.022],[2005.7,-0.04],[2005.99,-0.058],[2006.28,-0.04],[2006.53,0.005],[2006.78,0.032],[2007.07,0.014],[2007.36,-0.004],[2007.62,0.023],[2007.87,-0.013],[2008.16,0.014],[2008.45,-0.022]];

const mlsPts50: Pt[] = [[2004.69,0.0075],[2004.77,0.0135],[2004.87,-0.0045],[2004.97,-0.0165],[2005.05,-0.0285],[2005.17,0.0255],[2005.3,0.0375],[2005.38,0.0315],[2005.48,0.0075],[2005.6,-0.0045],[2005.72,-0.0165],[2005.84,-0.0285],[2005.96,-0.0405],[2006.06,-0.0465],[2006.2,-0.0345],[2006.33,-0.0165],[2006.45,-0.0045],[2006.57,0.0075],[2006.69,0.0135],[2006.87,0.0195],[2007.05,0.0255],[2007.17,0.0195],[2007.36,0.0315],[2007.48,0.0375],[2007.6,0.0135],[2007.72,0.0075],[2007.9,0.0195],[2008.08,0.0315],[2008.2,0.0255],[2008.39,0.0135],[2008.63,0.0195],[2008.75,0.0315],[2007.54,-0.0045],[2005.84,-0.0525],[2004.99,-0.0405],[2006.45,-0.0285]];

const mlsDense50: Pt[] = [[2004.78,0.0],[2005.15,0.009],[2005.51,0.018],[2005.87,-0.009],[2006.13,-0.036],[2006.42,-0.05],[2006.71,-0.018],[2007.07,0.009],[2007.44,0.018],[2007.8,0.022],[2008.16,0.014],[2008.53,0.009]];

const mlsLine50: Pt[] = [[2004.73,-0.0045],[2004.81,0.0015],[2004.9,0.0075],[2004.99,-0.0045],[2005.09,-0.0105],[2005.17,0.0015],[2005.26,0.0195],[2005.33,0.0255],[2005.42,0.0135],[2005.5,0.0015],[2005.6,0.0015],[2005.7,-0.0045],[2005.78,-0.0105],[2005.87,-0.0165],[2005.96,-0.0225],[2006.06,-0.0285],[2006.14,-0.0345],[2006.23,-0.0405],[2006.3,-0.0345],[2006.39,-0.0225],[2006.47,-0.0105],[2006.57,0.0015],[2006.67,0.0075],[2006.75,0.0075],[2006.83,0.0135],[2006.93,0.0075],[2007.03,0.0135],[2007.11,0.0195],[2007.2,0.0135],[2007.3,0.0195],[2007.39,0.0135],[2007.48,0.0075],[2007.56,0.0135],[2007.66,0.0135],[2007.76,0.0015],[2007.84,0.0075],[2007.93,0.0135],[2008.02,0.0195],[2008.12,0.0195],[2008.2,0.0135],[2008.29,0.0075],[2008.39,-0.0045],[2008.48,0.0015],[2008.57,0.0135],[2008.65,0.0195],[2008.75,0.0195],[2008.9,0.02]];

const ace50: Pt[] = [[2004.2,0.004],[2004.35,-0.01],[2005.5,-0.005],[2006.4,-0.02],[2007.45,0.02],[2007.7,-0.03],[2008.05,0.0],[2008.5,-0.02]];

type PanelDef = {
  title: string; left: number; top: number;
  haloeLine: Pt[]; haloePts: Pt[]; wvmsLine: Pt[]; wvmsPts: Pt[]; wvmsOut: Pt[];
  mlsPts: Pt[]; mlsLine: Pt[]; ace: Pt[];
};

const panels: PanelDef[] = [
  { title: '80 km', left: 0, top: 0, haloeLine: haloeLine80, haloePts: haloePts80, wvmsLine: wvmsLine80, wvmsPts: [...wvmsPts80, ...wvmsDense80], wvmsOut: wvmsOut80, mlsPts: [...mlsPts80, ...mlsDense80], mlsLine: mlsLine80, ace: ace80 },
  { title: '70 km', left: 615, top: 0, haloeLine: haloeLine70, haloePts: haloePts70, wvmsLine: wvmsLine70, wvmsPts: [...wvmsPts70, ...wvmsDense70], wvmsOut: wvmsOut70, mlsPts: [...mlsPts70, ...mlsDense70], mlsLine: mlsLine70, ace: ace70 },
  { title: '60 km', left: 0, top: 452, haloeLine: haloeLine60, haloePts: haloePts60, wvmsLine: wvmsLine60, wvmsPts: [...wvmsPts60, ...wvmsDense60], wvmsOut: [], mlsPts: [...mlsPts60, ...mlsDense60], mlsLine: mlsLine60, ace: ace60 },
  { title: '50 km', left: 615, top: 452, haloeLine: haloeLine50, haloePts: haloePts50, wvmsLine: wvmsLine50, wvmsPts: [...wvmsPts50, ...wvmsDense50], wvmsOut: [], mlsPts: [...mlsPts50, ...mlsDense50], mlsLine: mlsLine50, ace: ace50 },
];

const CW = 580;
const CH = 430;
const PAD = { left: 87.5, top: 43.3, right: 24, bottom: 41.7 };

const toXY = (arr: Pt[]) => arr.map(([x, y]) => ({ x, y }));

function makeAxesPlugin(title: string) {
  return {
    id: 'idlAxes',
    beforeDatasetsDraw(chart: any) {
      const { ctx, chartArea: a } = chart;
      const xs = chart.scales.x;
      ctx.save();
      ctx.strokeStyle = '#262626';
      ctx.lineWidth = 1.2;
      for (const yr of yearLines) {
        const px = xs.getPixelForValue(yr);
        ctx.beginPath();
        ctx.moveTo(px, a.top);
        ctx.lineTo(px, a.bottom);
        ctx.stroke();
      }
      ctx.restore();
    },
    afterDatasetsDraw(chart: any) {
      const { ctx, chartArea: a } = chart;
      const xs = chart.scales.x;
      const ys = chart.scales.y;
      ctx.save();
      ctx.strokeStyle = '#000';
      ctx.fillStyle = '#000';
      const seg = (x1: number, y1: number, x2: number, y2: number) => {
        ctx.beginPath(); ctx.moveTo(x1, y1); ctx.lineTo(x2, y2); ctx.stroke();
      };
      ctx.lineWidth = 2;
      for (let i = -31; i <= 31; i++) {
        const py = ys.getPixelForValue(i / 100);
        if (py < a.top || py > a.bottom) continue;
        const len = i % 10 === 0 ? 9 : 4.5;
        seg(a.left, py, a.left + len, py);
        seg(a.right, py, a.right - len, py);
      }
      for (const yr of yearLines) {
        const px = xs.getPixelForValue(yr);
        seg(px, a.top, px, a.top + 7);
        seg(px, a.bottom, px, a.bottom - 7);
      }
      ctx.lineWidth = 3;
      ctx.strokeRect(a.left, a.top, a.right - a.left, a.bottom - a.top);

      ctx.font = `20px ${FONT}`;
      ctx.textAlign = 'right';
      ctx.textBaseline = 'alphabetic';
      yTickValues.forEach((v, i) => {
        const py = ys.getPixelForValue(v);
        ctx.fillText(yTickLabels[i], a.left - 6, py + 8);
      });
      ctx.font = `18px ${FONT}`;
      ctx.textAlign = 'center';
      yearLabelPos.forEach((yr, i) => {
        ctx.fillText(yearLabels[i], xs.getPixelForValue(yr), a.bottom + 23);
      });
      ctx.font = `24px ${FONT}`;
      ctx.fillText(title, (a.left + a.right) / 2, a.top - 10);

      const big = 18, small = 12;
      const widths = yTitleParts.map(([t, s]) => {
        ctx.font = `${s ? small : big}px ${FONT}`;
        return ctx.measureText(t).width;
      });
      const total = widths.reduce((p, c) => p + c, 0);
      ctx.translate(a.left - 61.5, (a.top + a.bottom) / 2);
      ctx.rotate(-Math.PI / 2);
      ctx.textAlign = 'left';
      let xx = -total / 2;
      yTitleParts.forEach(([t, s], i) => {
        ctx.font = `${s ? small : big}px ${FONT}`;
        ctx.fillText(t, xx, s ? 4 : 0);
        xx += widths[i];
      });
      ctx.restore();
    },
  };
}

function Panel({ def }: { def: PanelDef }) {
  const ref = useRef<HTMLCanvasElement | null>(null);
  useEffect(() => {
    if (!ref.current) return;
    const datasets: any[] = [
      { label: 'HALOE pts', data: toXY(def.haloePts), showLine: false, pointStyle: 'rect', pointRadius: 2.9, pointBorderWidth: 0, backgroundColor: GREEN, borderColor: GREEN, order: 9 },
      { label: 'HALOE', data: toXY(def.haloeLine), showLine: true, borderColor: GREEN, borderWidth: 3.5, pointRadius: 0, order: 8 },
      { label: 'MLS pts', data: toXY(def.mlsPts), showLine: false, pointStyle: 'rect', pointRadius: 3.2, pointBorderWidth: 0, backgroundColor: RED, borderColor: RED, order: 7 },
      { label: 'WVMS pts', data: toXY(def.wvmsPts), showLine: false, pointStyle: 'circle', pointRadius: 3, pointBorderWidth: 0, backgroundColor: BLUE, borderColor: BLUE, order: 6 },
      { label: 'WVMS', data: toXY(def.wvmsLine), showLine: true, borderColor: BLUE, borderWidth: 3.5, pointStyle: 'circle', pointRadius: 2.8, pointBorderWidth: 0, pointBackgroundColor: BLUE, order: 5 },
      { label: 'ACE', data: toXY(def.ace), showLine: false, pointStyle: 'cross', pointRadius: 5.5, borderWidth: 3, borderColor: CYAN, backgroundColor: CYAN, order: 4 },
      { label: 'MLS', data: toXY(def.mlsLine), showLine: true, borderColor: MAGENTA, borderWidth: 3.5, pointRadius: 0, order: 3 },
      { label: 'WVMS out', data: toXY(def.wvmsOut), showLine: false, pointStyle: 'circle', pointRadius: 3, pointBorderWidth: 0, backgroundColor: BLUE, clip: false, order: 2 },
    ];
    const chart = new Chart(ref.current, {
      type: 'scatter',
      data: { datasets },
      options: {
        animation: false,
        responsive: false,
        devicePixelRatio: 1,
        events: [],
        layout: { padding: PAD },
        plugins: { legend: { display: false }, tooltip: { enabled: false }, title: { display: false } },
        scales: {
          x: { type: 'linear', min: X_MIN, max: X_MAX, display: false },
          y: { type: 'linear', min: Y_MIN, max: Y_MAX, display: false },
        },
      },
      plugins: [makeAxesPlugin(def.title)],
    } as any);
    return () => chart.destroy();
  }, [def]);
  return (
    <canvas
      ref={ref}
      width={CW}
      height={CH}
      style={{ position: 'absolute', left: def.left, top: def.top, width: CW, height: CH }}
    />
  );
}

const legendTops = [352, 398, 443, 488];

export default function App() {
  return (
    <div style={{ position: 'fixed', left: 0, top: 0, width: 1164, height: 865, overflow: 'hidden', background: '#fff' }}>
      {panels.map((p) => (
        <Panel key={p.title} def={p} />
      ))}
      {legendItems.map((l, i) => (
        <div
          key={l.name}
          style={{ position: 'absolute', left: 566, top: legendTops[i], color: l.color, font: `21px ${FONT}`, lineHeight: '21px', whiteSpace: 'nowrap' }}
        >
          {l.name}
        </div>
      ))}
    </div>
  );
}
